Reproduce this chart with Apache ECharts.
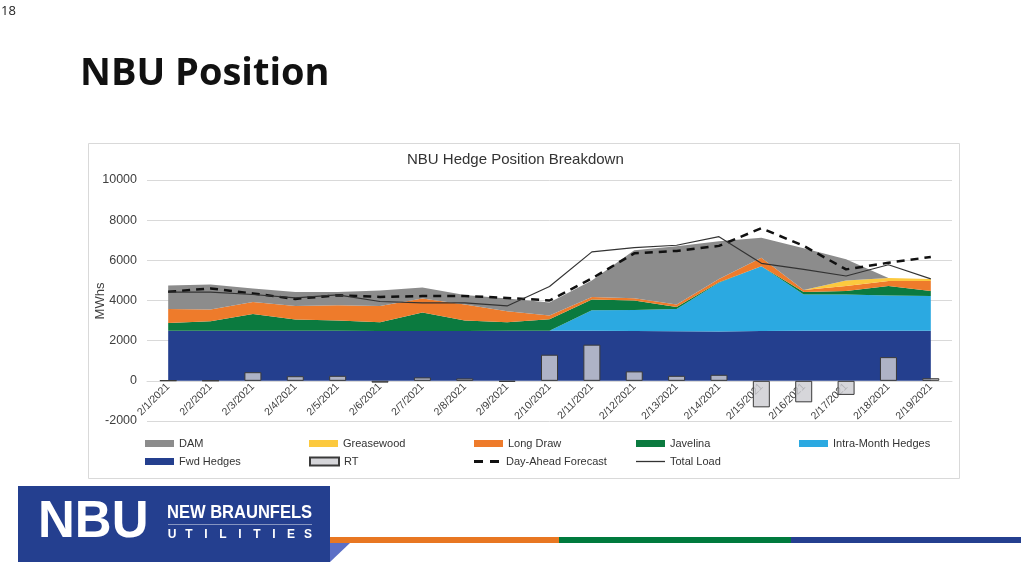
<!DOCTYPE html>
<html><head><meta charset="utf-8">
<script src="https://cdn.jsdelivr.net/npm/echarts@6/dist/echarts.min.js"></script>
<style>html,body{margin:0;padding:0;background:#fff}#c{width:1024px;height:576px}</style>
</head><body><div id="c"></div>
<script>
const categories = ['2/1/2021','2/2/2021','2/3/2021','2/4/2021','2/5/2021','2/6/2021','2/7/2021','2/8/2021','2/9/2021','2/10/2021','2/11/2021','2/12/2021','2/13/2021','2/14/2021','2/15/2021','2/16/2021','2/17/2021','2/18/2021','2/19/2021'];
const fwdHedges   = [2500,2500,2500,2500,2500,2480,2480,2480,2500,2500,2500,2480,2470,2460,2480,2500,2500,2500,2500];
const intraMonth  = [0,0,0,0,0,0,0,0,0,0,1020,1050,1110,2420,3220,1800,1800,1750,1730];
const javelina    = [380,470,830,550,500,440,920,520,420,570,530,470,100,30,0,120,170,470,240];
const longDraw    = [700,580,600,670,760,810,700,800,550,180,120,110,120,160,430,100,250,250,500];
const greasewood  = [0,0,0,0,0,0,0,0,0,0,0,0,0,0,0,0,280,150,100];
const dam         = [1170,1250,670,700,660,770,550,480,630,650,830,2390,2900,1880,1000,2080,1050,0,0];
const rt          = [20,10,430,230,250,-90,170,120,-50,1300,1800,470,250,300,-1320,-1070,-700,1180,130];
const dayAhead    = [4430,4600,4350,4080,4260,4180,4220,4220,4130,4000,5100,6350,6470,6720,7600,6720,5550,5880,6170];
const totalLoad   = [4420,4420,4300,4130,4280,3950,3880,3880,3730,4700,6420,6630,6750,7180,5850,5550,5220,5780,5080];
const yTicks = {min:-2000, max:10000, interval:2000};
const logoLetters = ['U','T','I','L','I','T','I','E','S'];

const FONT = 'Liberation Sans, Arial, sans-serif';
const colors = {
  dam:'#8c8c8c', greasewood:'#fcc93e', longDraw:'#ee7b2b', javelina:'#0b7a3f',
  intra:'#2ba9e1', fwd:'#243f8e', rt:'rgba(205,205,210,0.82)'
};

function area(name, data, color){
  return {name, type:'line', stack:'pos', data, symbol:'none', showSymbol:false,
    lineStyle:{width:0}, areaStyle:{color, opacity:1}, itemStyle:{color}, z:2, silent:true};
}

const legendNames = ['DAM','Greasewood','Long Draw','Javelina','Intra-Month Hedges','Fwd Hedges','RT','Day-Ahead Forecast','Total Load'];
const legendPos = [[145,438],[309,438],[474,438],[636,438],[799,438],[145,456],[309,456],[474,456],[636,456]];
const legends = legendNames.map((n,i)=>{
  const l = {data:[n], left:legendPos[i][0], top:legendPos[i][1], padding:0,
    itemWidth:29, itemHeight:7, itemGap:5, icon:'rect',
    textStyle:{fontSize:11, color:'#333', fontFamily:FONT}};
  if(n==='RT') l.itemHeight = 8;
  if(n==='Total Load') { l.itemHeight = 1.3; }
  if(n==='Day-Ahead Forecast') { l.icon = 'path://M2,0H11V3H2Z M18,0H27V3H18Z'; l.itemHeight = 3; }
  return l;
});

const graphics = [
  {type:'rect', shape:{x:88.5,y:143.5,width:871,height:335}, style:{fill:'none', stroke:'#d9d9d9', lineWidth:1}, silent:true},
  {type:'text', x:100, y:301, rotation:Math.PI/2, style:{text:'MWhs', font:'13px "Liberation Sans", sans-serif', fill:'#404040', textAlign:'center', textVerticalAlign:'middle'}},
  {type:'text', x:1, y:5, style:{text:'18', font:'13px "Open Sans", sans-serif', fill:'#222'}},
  {type:'text', x:80, y:74, style:{text:'NBU Position', font:'bold 38px "Open Sans", sans-serif', fill:'#111', textVerticalAlign:'middle'}},
  {type:'rect', shape:{x:18,y:486,width:312,height:76}, style:{fill:'#243f8f'}},
  {type:'polygon', shape:{points:[[330,543],[350,543],[330,562]]}, style:{fill:'#5b6fc6'}},
  {type:'rect', shape:{x:330,y:537,width:229,height:6}, style:{fill:'#e87722'}},
  {type:'rect', shape:{x:559,y:537,width:232,height:6}, style:{fill:'#007a3d'}},
  {type:'rect', shape:{x:791,y:537,width:230,height:6}, style:{fill:'#243f8f'}},
  {type:'text', x:38, y:523, style:{text:'NBU', font:'bold 51px "Liberation Sans", sans-serif', fill:'#fff', textVerticalAlign:'middle'}},
  {type:'text', x:167, y:513, scaleX:0.87, style:{text:'NEW BRAUNFELS', font:'bold 19px "Liberation Sans", sans-serif', fill:'#fff', textVerticalAlign:'middle'}},
  {type:'line', shape:{x1:168,y1:524.5,x2:312,y2:524.5}, style:{stroke:'rgba(255,255,255,0.45)', lineWidth:1}}
];
logoLetters.forEach((ch,i)=>{
  graphics.push({type:'text', x:172 + i*17, y:535, style:{text:ch, font:'bold 12px "Liberation Sans", sans-serif', fill:'#fff', textAlign:'center', textVerticalAlign:'middle'}});
});

const chart = echarts.init(document.getElementById('c'));
chart.setOption({
  animation:false,
  backgroundColor:'#fff',
  title:{text:'NBU Hedge Position Breakdown', left:407, top:152, padding:0,
    textStyle:{fontSize:15, fontWeight:'normal', color:'#333', fontFamily:FONT}},
  legend: legends,
  grid:{left:147, right:72, top:180, bottom:155, containLabel:false},
  xAxis:{type:'category', data:categories, boundaryGap:true, offset:-40,
    axisLine:{onZero:false, lineStyle:{color:'#d9d9d9'}}, axisTick:{show:false},
    axisLabel:{rotate:45, interval:0, fontSize:10.5, color:'#404040', margin:4, fontFamily:FONT},
    splitLine:{show:false}},
  yAxis:{type:'value', min:yTicks.min, max:yTicks.max, interval:yTicks.interval,
    axisLine:{show:false}, axisTick:{show:false},
    axisLabel:{fontSize:12.5, color:'#404040', margin:10, fontFamily:FONT, formatter:v=>String(v)},
    splitLine:{lineStyle:{color:'#d9d9d9'}}},
  series:[
    area('Fwd Hedges', fwdHedges, colors.fwd),
    area('Intra-Month Hedges', intraMonth, colors.intra),
    area('Javelina', javelina, colors.javelina),
    area('Long Draw', longDraw, colors.longDraw),
    area('Greasewood', greasewood, colors.greasewood),
    area('DAM', dam, colors.dam),
    {name:'RT', type:'bar', data:rt, barWidth:17, z:3,
      itemStyle:{color:colors.rt, borderColor:'#3a3a3a', borderWidth:1}},
    {name:'Day-Ahead Forecast', type:'line', data:dayAhead, symbol:'none', z:4,
      lineStyle:{color:'#111', width:2.5, type:[8,6]}, itemStyle:{color:'#111'}},
    {name:'Total Load', type:'line', data:totalLoad, symbol:'none', z:5,
      lineStyle:{color:'#333', width:1.2}, itemStyle:{color:'#333'}}
  ],
  graphic: graphics
});
</script>
</body></html>
